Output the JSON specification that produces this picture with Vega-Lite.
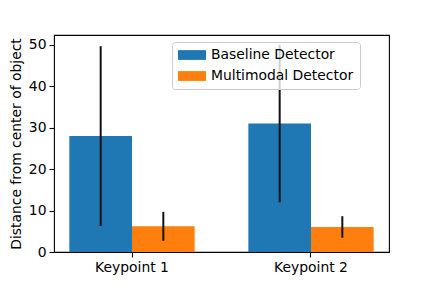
{
  "$schema": "https://vega.github.io/schema/vega-lite/v6.json",
  "width": 335,
  "height": 217,
  "autosize": "none",
  "padding": {"left": 54, "top": 35, "right": 43, "bottom": 36},
  "background": "white",
  "config": {
    "font": "DejaVu Sans",
    "view": {"stroke": "black", "strokeWidth": 1.1},
    "axis": {
      "domain": false,
      "grid": false,
      "tickColor": "black",
      "tickWidth": 1.1,
      "tickSize": 5,
      "labelColor": "black",
      "labelFontSize": 13.9,
      "labelPadding": 3,
      "titleColor": "black",
      "titleFontSize": 13.9,
      "titleFontWeight": "normal"
    }
  },
  "data": {
    "values": [
      {"keypoint": "Keypoint 1", "detector": "Baseline Detector", "value": 28.0, "lower": 6.3, "upper": 49.7},
      {"keypoint": "Keypoint 1", "detector": "Multimodal Detector", "value": 6.2, "lower": 2.7, "upper": 9.7},
      {"keypoint": "Keypoint 2", "detector": "Baseline Detector", "value": 31.0, "lower": 12.0, "upper": 50.0},
      {"keypoint": "Keypoint 2", "detector": "Multimodal Detector", "value": 6.05, "lower": 3.45, "upper": 8.65}
    ]
  },
  "encoding": {
    "x": {
      "field": "keypoint",
      "type": "nominal",
      "scale": {"paddingInner": 0.3, "paddingOuter": 0.0858},
      "axis": {"title": null, "labelAngle": 0}
    },
    "xOffset": {
      "field": "detector",
      "type": "nominal",
      "scale": {"paddingInner": 0, "paddingOuter": 0}
    }
  },
  "layer": [
    {
      "mark": {"type": "bar"},
      "encoding": {
        "y": {
          "field": "value",
          "type": "quantitative",
          "scale": {"domain": [0, 52.4], "nice": false, "zero": true},
          "axis": {"title": "Distance from center of object", "values": [0, 10, 20, 30, 40, 50], "titlePadding": 5}
        },
        "color": {
          "field": "detector",
          "type": "nominal",
          "scale": {"range": ["#1f77b4", "#ff7f0e"]},
          "legend": {
            "title": null,
            "orient": "none",
            "legendX": 118,
            "legendY": 7,
            "symbolType": "M-1,-0.7H3V0.7H-1Z",
            "symbolSize": 196,
            "symbolStrokeWidth": 0,
            "symbolOpacity": 1,
            "labelFontSize": 13.9,
            "labelColor": "black",
            "labelOffset": 19,
            "padding": 6,
            "rowPadding": 7,
            "fillColor": "rgba(255,255,255,0.8)",
            "strokeColor": "#cccccc",
            "cornerRadius": 3
          }
        }
      }
    },
    {
      "mark": {"type": "rule", "color": "#111111", "strokeWidth": 2},
      "encoding": {
        "y": {"field": "lower", "type": "quantitative"},
        "y2": {"field": "upper"}
      }
    }
  ]
}
